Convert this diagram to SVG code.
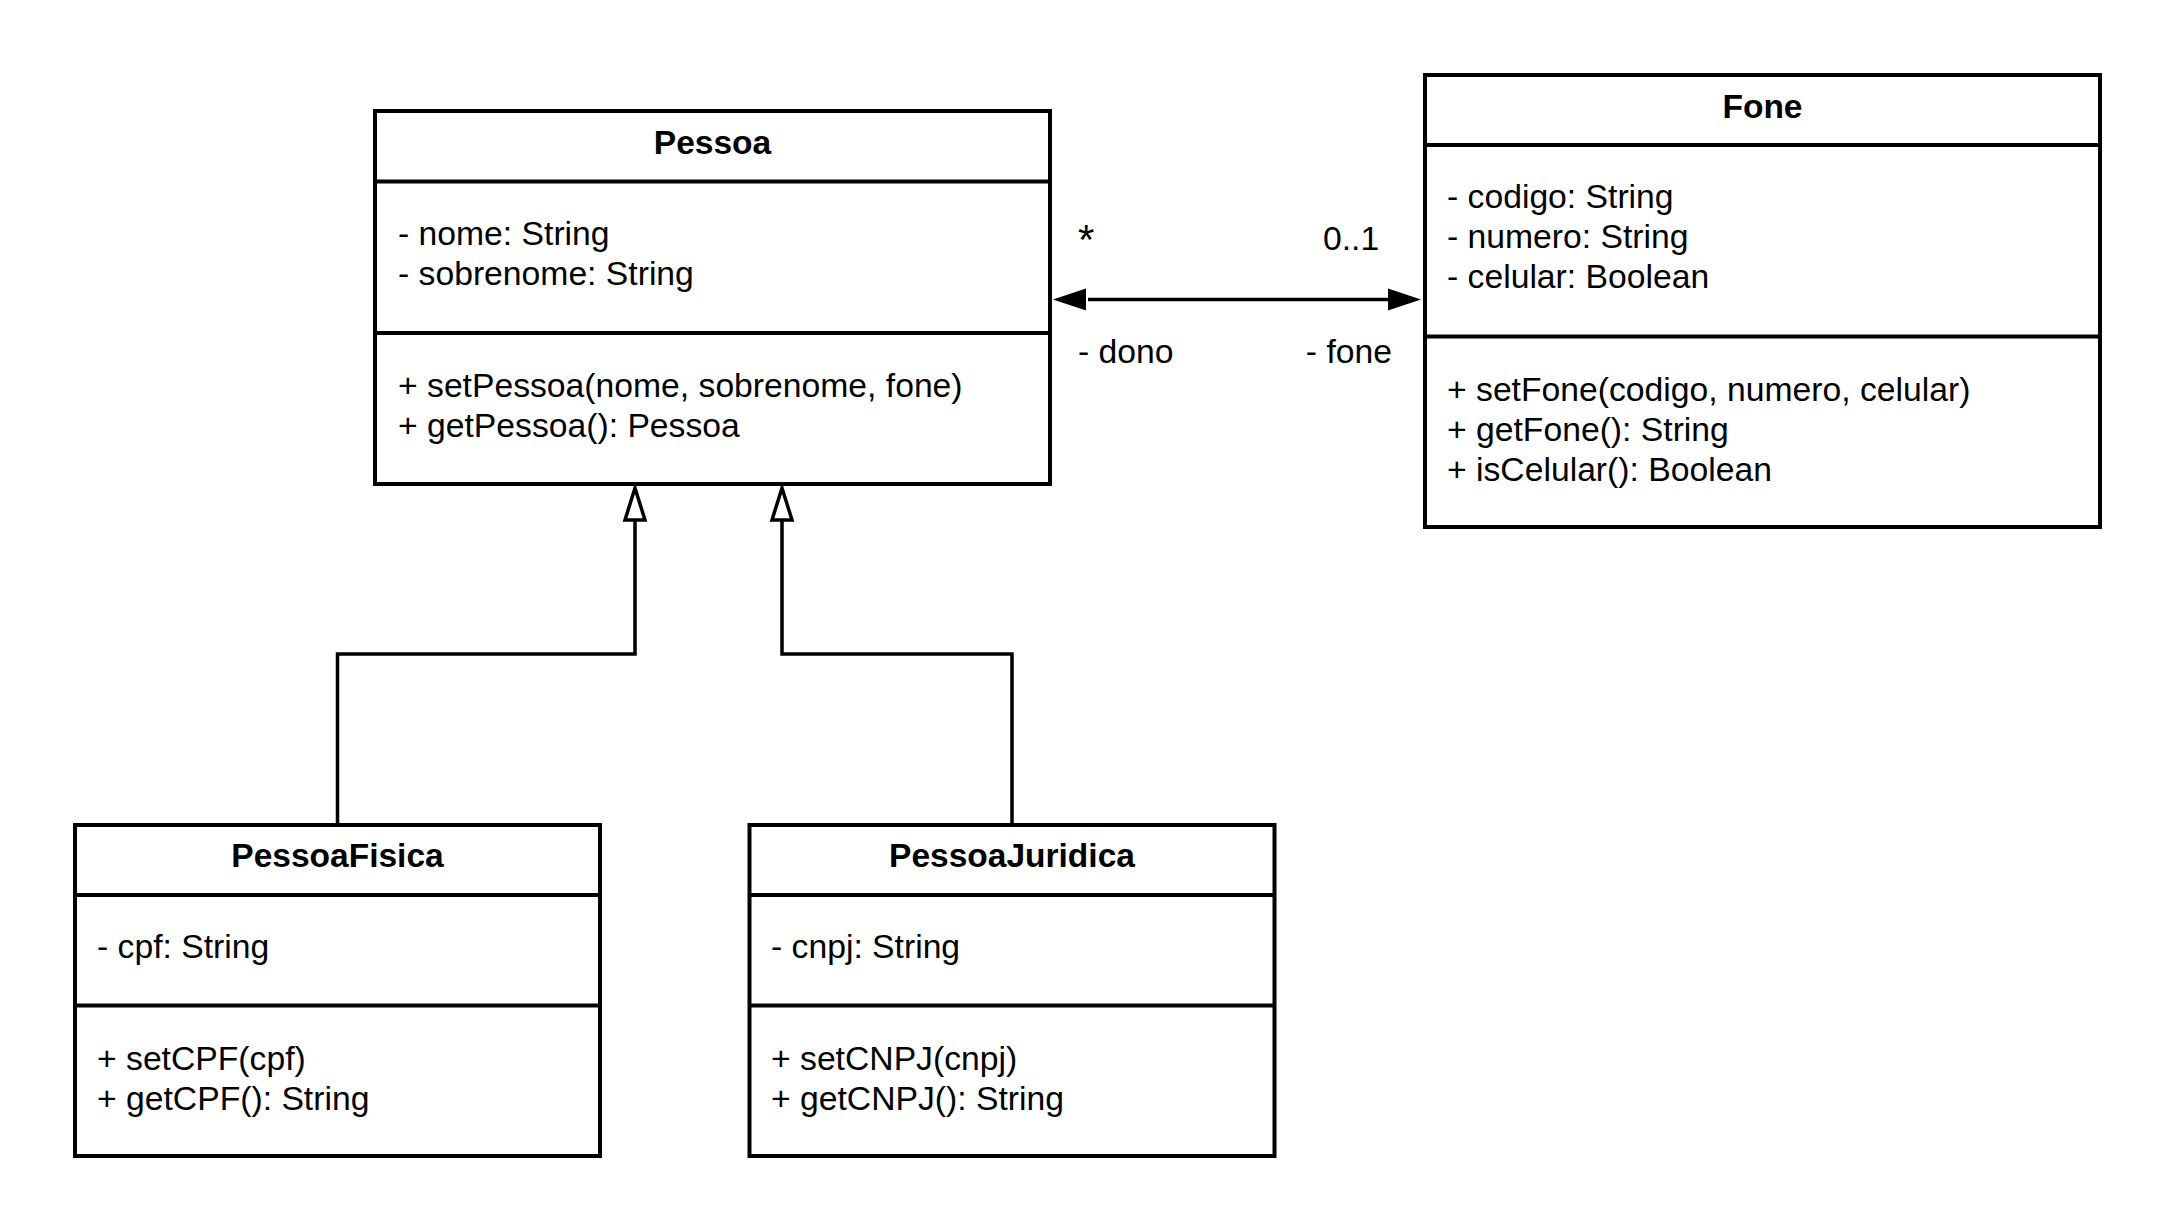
<svg xmlns="http://www.w3.org/2000/svg" width="2175" height="1232" viewBox="0 0 2175 1232">
<style>
  .box { fill: #ffffff; stroke: #000000; stroke-width: 4; }
  .div { stroke: #000000; stroke-width: 4; }
  .title { font-family: "Liberation Sans", Arial, sans-serif; font-size: 33.5px; font-weight: bold; fill: #000000; text-anchor: middle; }
  .txt { font-family: "Liberation Sans", Arial, sans-serif; font-size: 33.7px; fill: #000000; }
  .edge { fill: none; stroke: #000000; stroke-width: 3.5; }
</style>
<rect width="2175" height="1232" fill="#ffffff"/>

<g id="connectors">
  <line class="edge" x1="1088" y1="299.5" x2="1388" y2="299.5"/>
  <path d="M1086,288.5 L1053,299.5 L1086,310.5 Z" fill="#000000"/>
  <path d="M1388,288.5 L1421,299.5 L1388,310.5 Z" fill="#000000"/>
  <path class="edge" d="M337.5,825 L337.5,654 L635,654 L635,520"/>
  <path d="M625,520 L635,488 L645,520 Z" fill="#ffffff" stroke="#000000" stroke-width="3.5" stroke-linejoin="miter"/>
  <path class="edge" d="M1012,825 L1012,654 L782,654 L782,520"/>
  <path d="M772,520 L782,488 L792,520 Z" fill="#ffffff" stroke="#000000" stroke-width="3.5" stroke-linejoin="miter"/>
  <text class="txt" x="1078" y="254" style="font-size:42px">*</text>
  <text class="txt" x="1323" y="250">0..1</text>
  <text class="txt" x="1078" y="363">- dono</text>
  <text class="txt" x="1392" y="363" text-anchor="end">- fone</text>
</g>

<g id="Pessoa">
  <rect class="box" x="375" y="111" width="675" height="373"/>
  <line class="div" x1="375" y1="181.5" x2="1050" y2="181.5"/>
  <line class="div" x1="375" y1="333" x2="1050" y2="333"/>
  <text class="title" x="712.5" y="154">Pessoa</text>
  <text class="txt" x="398" y="245">- nome: String</text>
  <text class="txt" x="398" y="285">- sobrenome: String</text>
  <text class="txt" x="398" y="396.5">+ setPessoa(nome, sobrenome, fone)</text>
  <text class="txt" x="398" y="436.5">+ getPessoa(): Pessoa</text>
</g>

<g id="Fone">
  <rect class="box" x="1425" y="75" width="675" height="452"/>
  <line class="div" x1="1425" y1="145" x2="2100" y2="145"/>
  <line class="div" x1="1425" y1="336.5" x2="2100" y2="336.5"/>
  <text class="title" x="1762.5" y="118">Fone</text>
  <text class="txt" x="1447" y="208">- codigo: String</text>
  <text class="txt" x="1447" y="248">- numero: String</text>
  <text class="txt" x="1447" y="288">- celular: Boolean</text>
  <text class="txt" x="1447" y="400.5">+ setFone(codigo, numero, celular)</text>
  <text class="txt" x="1447" y="440.5">+ getFone(): String</text>
  <text class="txt" x="1447" y="480.5">+ isCelular(): Boolean</text>
</g>

<g id="PessoaFisica">
  <rect class="box" x="75" y="825" width="525" height="331"/>
  <line class="div" x1="75" y1="895" x2="600" y2="895"/>
  <line class="div" x1="75" y1="1005.5" x2="600" y2="1005.5"/>
  <text class="title" x="337.5" y="867">PessoaFisica</text>
  <text class="txt" x="97" y="958">- cpf: String</text>
  <text class="txt" x="97" y="1069.5">+ setCPF(cpf)</text>
  <text class="txt" x="97" y="1109.5">+ getCPF(): String</text>
</g>

<g id="PessoaJuridica">
  <rect class="box" x="749.5" y="825" width="525" height="331"/>
  <line class="div" x1="749.5" y1="895" x2="1274.5" y2="895"/>
  <line class="div" x1="749.5" y1="1005.5" x2="1274.5" y2="1005.5"/>
  <text class="title" x="1012" y="867">PessoaJuridica</text>
  <text class="txt" x="771" y="958">- cnpj: String</text>
  <text class="txt" x="771" y="1069.5">+ setCNPJ(cnpj)</text>
  <text class="txt" x="771" y="1109.5">+ getCNPJ(): String</text>
</g>
</svg>
